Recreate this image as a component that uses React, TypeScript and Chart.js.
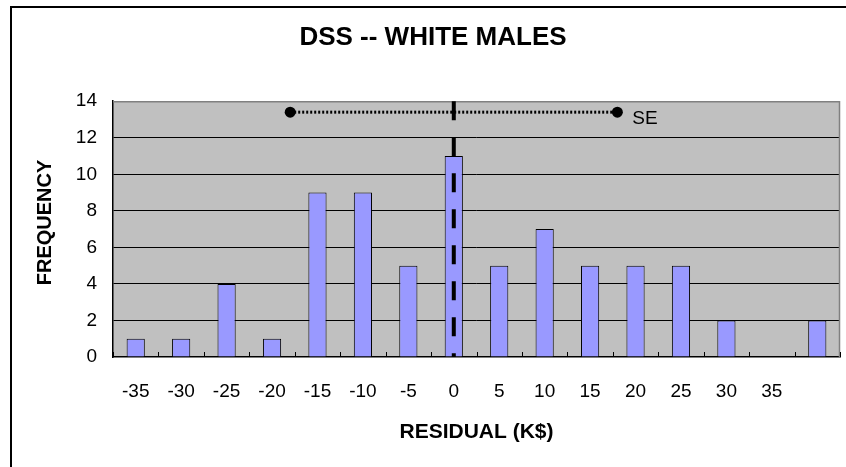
import React, { useEffect, useRef } from 'react';
import { Chart, registerables } from 'chart.js';

Chart.register(...registerables);

const categories = ['-35', '-30', '-25', '-20', '-15', '-10', '-5', '0', '5', '10', '15', '20', '25', '30', '35', ''];
const frequencies = [1, 1, 4, 1, 9, 9, 5, 11, 5, 7, 5, 5, 5, 2, 0, 2];
const residualStart = -35;
const residualStep = 5;
const meanResidual = 0;
const seHalfWidth = 18;
const seLevel = 13.4;
const seLabel = 'SE';
const chartTitle = 'DSS -- WHITE MALES';
const xTitle = 'RESIDUAL (K$)';
const yTitle = 'FREQUENCY';
const yMax = 14;
const yStep = 2;

const FONT = "'Liberation Sans', Arial, sans-serif";

const toIndex = (v: number) => (v - residualStart) / residualStep;

const overlay = {
  id: 'overlay',
  beforeDraw(chart: any) {
    const { ctx, chartArea: a } = chart;
    ctx.save();
    ctx.fillStyle = '#ffffff';
    ctx.fillRect(0, 0, chart.width, chart.height);
    ctx.fillStyle = '#C0C0C0';
    ctx.fillRect(a.left, a.top, a.right - a.left, a.bottom - a.top);
    ctx.fillStyle = '#000';
    ctx.fillRect(10, 6, 2, chart.height - 6);
    ctx.fillRect(10, 6, chart.width - 10, 2);
    ctx.restore();
  },
  afterDatasetsDraw(chart: any) {
    const { ctx, chartArea: a, scales } = chart;
    const x = scales.x;
    const y = scales.y;
    ctx.save();
    // plot border top/right
    ctx.strokeStyle = '#808080';
    ctx.lineWidth = 1.5;
    ctx.beginPath();
    ctx.moveTo(a.left, a.top + 0.5);
    ctx.lineTo(a.right - 0.5, a.top + 0.5);
    ctx.lineTo(a.right - 0.5, a.bottom);
    ctx.stroke();
    // x tick marks at category boundaries
    ctx.strokeStyle = '#000';
    ctx.lineWidth = 1;
    for (let i = 0; i <= categories.length; i++) {
      const px = Math.round(x.getPixelForValue(i - 0.5)) + 0.5;
      ctx.beginPath();
      ctx.moveTo(px, a.bottom);
      ctx.lineTo(px, a.bottom - 5);
      ctx.stroke();
    }
    // dashed mean line
    const mx = x.getPixelForValue(toIndex(meanResidual));
    ctx.strokeStyle = '#000';
    ctx.lineWidth = 4;
    ctx.setLineDash([19, 17]);
    ctx.beginPath();
    ctx.moveTo(mx, a.top);
    ctx.lineTo(mx, a.bottom);
    ctx.stroke();
    // SE dotted line
    const x1 = x.getPixelForValue(toIndex(meanResidual - seHalfWidth));
    const x2 = x.getPixelForValue(toIndex(meanResidual + seHalfWidth));
    const sy = y.getPixelForValue(seLevel);
    ctx.lineWidth = 3;
    ctx.setLineDash([2, 2]);
    ctx.beginPath();
    ctx.moveTo(x1, sy);
    ctx.lineTo(x2, sy);
    ctx.stroke();
    ctx.setLineDash([]);
    ctx.fillStyle = '#000';
    for (const px of [x1, x2]) {
      ctx.beginPath();
      ctx.arc(px, sy, 5.5, 0, Math.PI * 2);
      ctx.fill();
    }
    ctx.font = `19px ${FONT}`;
    ctx.textAlign = 'left';
    ctx.textBaseline = 'alphabetic';
    ctx.fillText(seLabel, x2 + 15, sy + 12);
    ctx.restore();
  },
  afterDraw(chart: any) {
    const { ctx } = chart;
    ctx.save();
    ctx.translate(45, 222.5);
    ctx.rotate(-Math.PI / 2);
    ctx.font = `bold 20px ${FONT}`;
    ctx.fillStyle = '#000';
    ctx.textAlign = 'center';
    ctx.textBaseline = 'middle';
    ctx.fillText(yTitle, 0, 0);
    ctx.restore();
  },
};

export default function App() {
  const ref = useRef<HTMLCanvasElement | null>(null);
  useEffect(() => {
    if (!ref.current) return;
    const chart = new Chart(ref.current, {
      type: 'bar',
      data: {
        labels: categories,
        datasets: [
          {
            data: frequencies,
            backgroundColor: '#9999FF',
            borderColor: '#000000',
            borderWidth: 1,
            barPercentage: 0.4,
            categoryPercentage: 1,
          },
        ],
      },
      options: {
        responsive: false,
        animation: false,
        devicePixelRatio: 1,
        layout: { padding: { left: 26, right: 6, top: 0, bottom: 0 } },
        plugins: {
          legend: { display: false },
          tooltip: { enabled: false },
          title: {
            display: true,
            text: chartTitle,
            color: '#000',
            font: { family: FONT, size: 26, weight: 'bold' },
            padding: { top: 22, bottom: 48 },
          },
        },
        scales: {
          x: {
            offset: true,
            grid: { display: false, drawTicks: false },
            border: { display: true, color: '#000', width: 1.5 },
            ticks: {
              color: '#000',
              font: { family: FONT, size: 19 },
              padding: 23,
              maxRotation: 0,
              autoSkip: false,
            },
            title: {
              display: true,
              text: xTitle,
              color: '#000',
              font: { family: FONT, size: 21, weight: 'bold' },
              padding: { top: 0, bottom: 22 },
            },
            afterFit(scale: any) {
              scale.height = 110;
            },
          },
          y: {
            min: 0,
            max: yMax,
            ticks: {
              stepSize: yStep,
              color: '#000',
              font: { family: FONT, size: 19 },
              padding: 16,
            },
            grid: {
              drawTicks: false,
              color: (c: any) => (c.tick && (c.tick.value === 0 || c.tick.value === yMax) ? 'rgba(0,0,0,0)' : '#000'),
              lineWidth: 1,
            },
            border: { display: true, color: '#000', width: 1.5 },
            title: { display: false, text: yTitle },
            afterFit(scale: any) {
              scale.width = 87;
            },
          },
        },
      },
      plugins: [overlay],
    });
    return () => chart.destroy();
  }, []);
  return (
    <div style={{ position: 'fixed', left: 0, top: 0, width: 846, height: 467 }}>
      <canvas ref={ref} width={846} height={467} style={{ display: 'block' }} />
    </div>
  );
}
